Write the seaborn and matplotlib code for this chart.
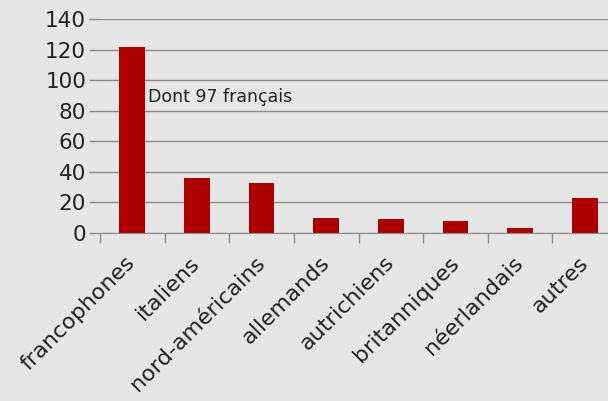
import matplotlib.pyplot as plt
import matplotlib.transforms as mtransforms
import numpy as np
import pandas as pd
import seaborn as sns

# Data
categories = ['francophones', 'italiens', 'nord-américains', 'allemands',
              'autrichiens', 'britanniques', 'néerlandais', 'autres']
counts = [122, 36, 33, 10, 9, 8, 3, 23]

df = pd.DataFrame({'groupe': categories, 'nombre': counts})

sns.set_style('white')
plt.rcParams['font.family'] = ['DejaVu Sans']

bg = '#e6e6e6'
grid = '#8c8c8c'

fig = plt.figure(figsize=(6.08, 4.01), dpi=100, facecolor=bg)
ax = fig.add_axes([100 / 608, 168 / 401, 517 / 608, 214 / 401])
ax.set_facecolor(bg)

sns.barplot(data=df, x='groupe', y='nombre', color='#ae0000',
            saturation=1, width=0.4, linewidth=0, ax=ax, zorder=3)

ax.set_xlim(-0.5, len(categories) - 0.5)
ax.set_ylim(0, 140)
ax.set_yticks(np.arange(0, 141, 20))
ax.yaxis.grid(True, color=grid, linewidth=1)
ax.set_axisbelow(True)
for s in ['top', 'right', 'left']:
    ax.spines[s].set_visible(False)
ax.spines['bottom'].set_color(grid)
ax.spines['bottom'].set_zorder(4)

ax.tick_params(axis='y', left=True, length=8, width=1, color=grid,
               labelsize=15.5, pad=2, labelcolor='#222222')
ax.set_xticks(np.arange(-0.5, len(categories)), minor=True)
ax.tick_params(axis='x', which='minor', bottom=True, length=7, width=1,
               color=grid, direction='out')
ax.tick_params(axis='x', which='major', length=0, pad=14)
ax.set_xticklabels(categories, rotation=45, ha='right', rotation_mode='anchor',
                   fontsize=16, color='#222222')
# nudge the rotated labels a little to the left
shift = mtransforms.ScaledTranslation(-7 / 100, 0, fig.dpi_scale_trans)
for lab in ax.get_xticklabels():
    lab.set_transform(lab.get_transform() + shift)
ax.set_xlabel('')
ax.set_ylabel('')

ax.text(0.25, 89, 'Dont 97 français', fontsize=12.5, va='center',
        color='#222222', zorder=5)

fig.savefig('out.png', dpi=100, facecolor=bg)
